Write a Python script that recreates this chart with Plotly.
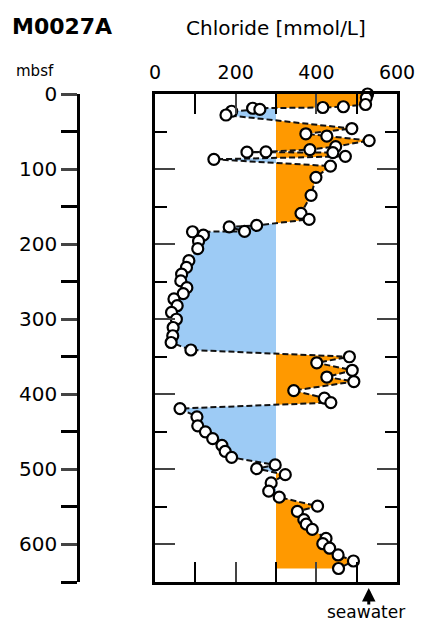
import plotly.graph_objects as go

# Pore-water chloride profile, Site M0027A
depth_mbsf = [
    0, 5, 14, 17, 18, 19, 20.5, 23, 28, 46,
    53, 56, 62, 70, 74, 77, 77.5, 78, 83, 87,
    96, 111, 135, 159, 167, 175, 177, 183, 183.5, 188,
    196, 206, 222, 231, 240, 249, 258, 266, 273, 282,
    291, 300, 311, 322, 331, 341, 350, 358, 368, 377,
    383, 395, 405, 411, 419, 430, 442, 450, 459, 468,
    476, 484, 494, 499, 507, 518, 529, 537, 549, 556,
    567, 573, 580, 592, 599, 605, 614, 622, 632,
]
chloride_mmol = [
    527, 524, 522, 467, 416, 242, 260, 190, 176, 488,
    374, 426, 531, 448, 384, 275, 228, 441, 472, 146,
    435, 399, 387, 362, 382, 252, 184, 222, 93, 120,
    108, 106, 84, 78, 66, 64, 79, 70, 47, 55,
    41, 53, 45, 44, 40, 89, 482, 401, 489, 426,
    493, 344, 420, 436, 62, 104, 106, 125, 143, 166,
    174, 190, 298, 252, 323, 288, 282, 308, 403, 353,
    369, 375, 390, 424, 416, 433, 454, 492, 455,
]

REFERENCE_CL = 300     # fill baseline
SEAWATER_CL = 530      # seawater marker on the x axis

x_ticks = [0, 200, 400, 600]
depth_ticks = [0, 100, 200, 300, 400, 500, 600]
depth_range = [650, 0]

FONT = "DejaVu Sans"
ORANGE = "#FF9900"
BLUE = "#9DCBF5"

W, H = 421, 622


def clipped_profile(xs, ys, base, keep_above):
    """Profile clipped at the baseline, with crossing points inserted."""
    px, py = [], []
    clip = (lambda v: max(v, base)) if keep_above else (lambda v: min(v, base))
    for i in range(len(xs)):
        if i > 0:
            x0, y0, x1, y1 = xs[i - 1], ys[i - 1], xs[i], ys[i]
            if (x0 - base) * (x1 - base) < 0:
                t = (base - x0) / (x1 - x0)
                px.append(base)
                py.append(y0 + t * (y1 - y0))
        px.append(clip(xs[i]))
        py.append(ys[i])
    return [base] + px + [base], [ys[0]] + py + [ys[-1]]


fig = go.Figure()

ox, oy = clipped_profile(chloride_mmol, depth_mbsf, REFERENCE_CL, True)
bx, by = clipped_profile(chloride_mmol, depth_mbsf, REFERENCE_CL, False)

fig.add_trace(go.Scatter(x=ox, y=oy, mode="lines", fill="toself",
                         fillcolor=ORANGE, line=dict(width=0),
                         hoverinfo="skip", showlegend=False))
fig.add_trace(go.Scatter(x=bx, y=by, mode="lines", fill="toself",
                         fillcolor=BLUE, line=dict(width=0),
                         hoverinfo="skip", showlegend=False))

fig.add_trace(go.Scatter(
    x=chloride_mmol, y=depth_mbsf, mode="lines+markers",
    line=dict(color="#111111", width=2, dash="6px,3px"),
    marker=dict(size=11, color="white", line=dict(color="black", width=2.2)),
    cliponaxis=False, showlegend=False,
))

# carrier for the separate depth scale
fig.add_trace(go.Scatter(x=[0, 0], y=[0, 650], yaxis="y2", mode="lines",
                         opacity=0, hoverinfo="skip", showlegend=False))

x0, x1 = 155 / W, 397 / W
y0, y1 = (H - 582) / H, (H - 94) / H

fig.update_layout(
    width=W, height=H,
    margin=dict(l=0, r=0, t=0, b=0),
    paper_bgcolor="white", plot_bgcolor="white",
    font=dict(family=FONT, color="black"),
    xaxis=dict(
        domain=[x0, x1], range=[0, 600], side="top",
        tickvals=x_ticks, ticks="inside", ticklen=20, tickwidth=2,
        minor=dict(dtick=100, ticks="inside", ticklen=12, tickwidth=2,
                   tickcolor="black", showgrid=False),
        showline=True, linewidth=2.5, linecolor="black", mirror="allticks",
        showgrid=False, zeroline=False, tickfont=dict(size=19),
        ticklabelstandoff=5, automargin=False,
    ),
    yaxis=dict(
        domain=[y0, y1], range=depth_range,
        tickvals=depth_ticks, ticks="inside", ticklen=20, tickwidth=2,
        minor=dict(dtick=50, ticks="inside", ticklen=12, tickwidth=2,
                   tickcolor="black", showgrid=False),
        showticklabels=False,
        showline=True, linewidth=2.5, linecolor="black", mirror="allticks",
        showgrid=False, zeroline=False, automargin=False,
    ),
    yaxis2=dict(
        overlaying="y", anchor="free", position=78 / W, side="left",
        range=depth_range, tickvals=depth_ticks,
        ticks="outside", ticklen=16, tickwidth=2.5,
        minor=dict(dtick=50, ticks="outside", ticklen=16, tickwidth=2.5,
                   tickcolor="black", showgrid=False),
        showline=True, linewidth=2.5, linecolor="black",
        showgrid=False, zeroline=False, tickfont=dict(size=20),
        automargin=False,
    ),
)

fig.add_annotation(text="<b>M0027A</b>", xref="paper", yref="paper",
                   x=10 / W, y=(H - 26) / H, xanchor="left", yanchor="middle",
                   showarrow=False, font=dict(size=22))
fig.add_annotation(text="Chloride [mmol/L]", xref="paper", yref="paper",
                   x=276 / W, y=(H - 28) / H, xanchor="center", yanchor="middle",
                   showarrow=False, font=dict(size=20))
fig.add_annotation(text="mbsf", xref="paper", yref="paper",
                   x=14 / W, y=(H - 71) / H, xanchor="left", yanchor="middle",
                   showarrow=False, font=dict(size=15))
fig.add_annotation(text="", x=SEAWATER_CL, xref="x", y=(H - 588) / H, yref="paper",
                   showarrow=True, arrowhead=2, arrowsize=0.9, arrowwidth=3,
                   arrowcolor="black", ax=0, ay=18)
fig.add_annotation(text="seawater", xref="paper", yref="paper",
                   x=366 / W, y=(H - 612) / H, xanchor="center", yanchor="middle",
                   showarrow=False, font=dict(size=17))

fig.write_html("out.html")
